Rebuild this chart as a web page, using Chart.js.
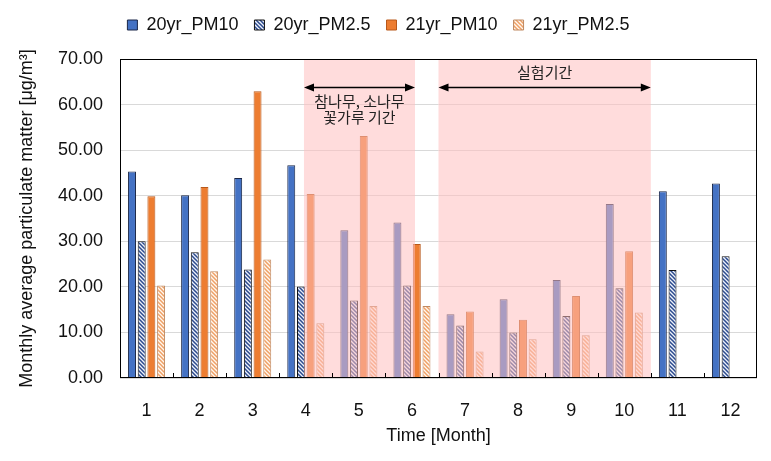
<!DOCTYPE html>
<html><head><meta charset="utf-8">
<script src="https://cdn.jsdelivr.net/npm/chart.js@4.4.0/dist/chart.umd.min.js"></script>
<style>html,body{margin:0;padding:0;background:#fff}#wrap{width:771px;height:461px;position:relative}</style>
</head><body><div id="wrap"><canvas id="c" width="771" height="461"></canvas></div>
<script>
// ---- data ----
const months = ['1','2','3','4','5','6','7','8','9','10','11','12'];
const seriesNames = ['20yr_PM10','20yr_PM2.5','21yr_PM10','21yr_PM2.5'];
const pm10_2020 = [45.3, 40.1, 43.9, 46.7, 32.4, 34.1, 14.0, 17.3, 21.5, 38.2, 41.0, 42.7];
const pm25_2020 = [30.0, 27.6, 23.8, 20.1, 17.0, 20.3, 11.5, 10.0, 13.6, 19.7, 23.7, 26.7];
const pm10_2021 = [39.9, 41.9, 62.9, 40.4, 53.1, 29.4, 14.6, 12.8, 18.0, 27.8, null, null];
const pm25_2021 = [20.3, 23.4, 26.0, 12.0, 15.8, 15.8, 5.8, 8.5, 9.4, 14.4, null, null];
const yMin = 0, yMax = 70, yStep = 10;
const bandLabels1 = ['참나무, 소나무', '꽃가루 기간'];
const bandLabels2 = ['실험기간'];
const xTitle = 'Time [Month]';
const yTitle = 'Monthly average particulate matter [μg/m³]';

// ---- drawing ----
const canvas = document.getElementById('c');
const mainCtx = canvas.getContext('2d');
function stripe(bg, fg){
  const s = 4;
  const c = document.createElement('canvas'); c.width = s; c.height = s;
  const x = c.getContext('2d');
  x.fillStyle = bg; x.fillRect(0,0,s,s);
  x.strokeStyle = fg; x.lineWidth = 1.5;
  x.beginPath();
  x.moveTo(-1,-1); x.lineTo(s+1,s+1);
  x.moveTo(-1,s-1); x.lineTo(1,s+1);
  x.moveTo(s-1,-1); x.lineTo(s+1,1);
  x.stroke();
  return mainCtx.createPattern(c,'repeat');
}
const pat20 = stripe('#EEF2FA', '#2B4A8E');
const pat21 = stripe('#FFF8F0', '#EFA066');

const bands = [
  {from: 2.966, to: 5.057, labels: bandLabels1, below: true},
  {from: 5.5, to: 9.5, labels: bandLabels2, below: false}
];

const deco = {
  id: 'deco',
  beforeLayout(chart){
    const lg = chart.legend;
    if (lg && !lg.__p){ const f = lg.fit; lg.fit = function(){ f.call(this); this.height = 59; }; lg.__p = true; }
  },
  afterDatasetsDraw(chart){
    const {ctx, chartArea: a, scales: {x, y}} = chart;
    ctx.save();
    ctx.fillStyle = 'rgba(255,190,190,0.54)';
    bands.forEach(b => {
      const x1 = x.getPixelForValue(b.from), x2 = x.getPixelForValue(b.to);
      ctx.fillRect(x1, a.top, x2 - x1, a.bottom - a.top);
    });
    // arrows + labels
    ctx.strokeStyle = '#000'; ctx.fillStyle = '#000'; ctx.lineWidth = 1.5;
    bands.forEach(b => {
      const x1 = x.getPixelForValue(b.from), x2 = x.getPixelForValue(b.to);
      const ay = Math.round(y.getPixelForValue(63.8)) + 0.5;
      const hl = 10, hw = 4;
      ctx.beginPath(); ctx.moveTo(x1 + hl - 1, ay); ctx.lineTo(x2 - hl + 1, ay); ctx.stroke();
      ctx.beginPath(); ctx.moveTo(x1, ay); ctx.lineTo(x1 + hl, ay - hw); ctx.lineTo(x1 + hl, ay + hw); ctx.closePath(); ctx.fill();
      ctx.beginPath(); ctx.moveTo(x2, ay); ctx.lineTo(x2 - hl, ay - hw); ctx.lineTo(x2 - hl, ay + hw); ctx.closePath(); ctx.fill();
      ctx.font = '15px "Noto Sans CJK KR"'; ctx.textAlign = 'center'; ctx.textBaseline = 'middle';
      ctx.fillStyle = '#222';
      const cx = (x1 + x2) / 2;
      if (b.below){
        b.labels.forEach((t, i) => ctx.fillText(t, cx, ay + 14 + i * 16));
      } else {
        b.labels.forEach((t, i) => ctx.fillText(t, cx, ay - 15 - i * 16));
      }
      ctx.fillStyle = '#000';
    });
    // inward x ticks between categories
    ctx.lineWidth = 1; ctx.strokeStyle = '#000';
    for (let i = 0; i < months.length - 1; i++){
      const px = Math.round(x.getPixelForValue(i + 0.5)) + 0.5;
      ctx.beginPath(); ctx.moveTo(px, a.bottom); ctx.lineTo(px, a.bottom - 5); ctx.stroke();
    }
    // frame
    ctx.strokeRect(Math.round(a.left) + 0.5, Math.round(a.top) + 0.5, Math.round(a.right - a.left) - 1, Math.round(a.bottom - a.top) - 1);
    ctx.restore();
  }
};

new Chart(canvas, {
  type: 'bar',
  data: {
    labels: months,
    datasets: [
      {label: seriesNames[0], data: pm10_2020, backgroundColor: '#4472C4', borderColor: '#1A2748', borderWidth: 1},
      {label: seriesNames[1], data: pm25_2020, backgroundColor: pat20, borderColor: '#111111', borderWidth: 1},
      {label: seriesNames[2], data: pm10_2021, backgroundColor: '#ED7D31', borderColor: '#B8581A', borderWidth: 1},
      {label: seriesNames[3], data: pm25_2021, backgroundColor: pat21, borderColor: '#C08A62', borderWidth: 1}
    ]
  },
  options: {
    responsive: false,
    animation: false,
    layout: {padding: {left: 0, right: 14, top: 0, bottom: 0}},
    datasets: {bar: {categoryPercentage: 0.73, barPercentage: 0.82}},
    plugins: {
      tooltip: {enabled: false},
      legend: {
        position: 'top',
        labels: {boxWidth: 10, boxHeight: 10, padding: 16, color: '#111', font: {family: '"Liberation Sans"', size: 18}}
      }
    },
    scales: {
      x: {
        grid: {display: false},
        border: {display: false},
        ticks: {color: '#111', padding: 14, font: {family: '"Liberation Sans"', size: 18}},
        title: {display: true, text: xTitle, color: '#111', font: {family: '"Liberation Sans"', size: 18}, padding: {top: 0, bottom: 14}},
        afterFit: s => { s.height = 83; }
      },
      y: {
        min: yMin, max: yMax,
        grid: {color: '#D9D9D9', drawTicks: false},
        border: {display: false},
        ticks: {stepSize: yStep, color: '#111', padding: 17, font: {family: '"Liberation Sans"', size: 18}, callback: v => Number(v).toFixed(2)},
        title: {display: true, text: yTitle, color: '#111', font: {family: '"Liberation Sans"', size: 18}, padding: {top: 16, bottom: 0}},
        afterFit: s => { s.width = 120; }
      }
    }
  },
  plugins: [deco]
});
</script></body></html>
